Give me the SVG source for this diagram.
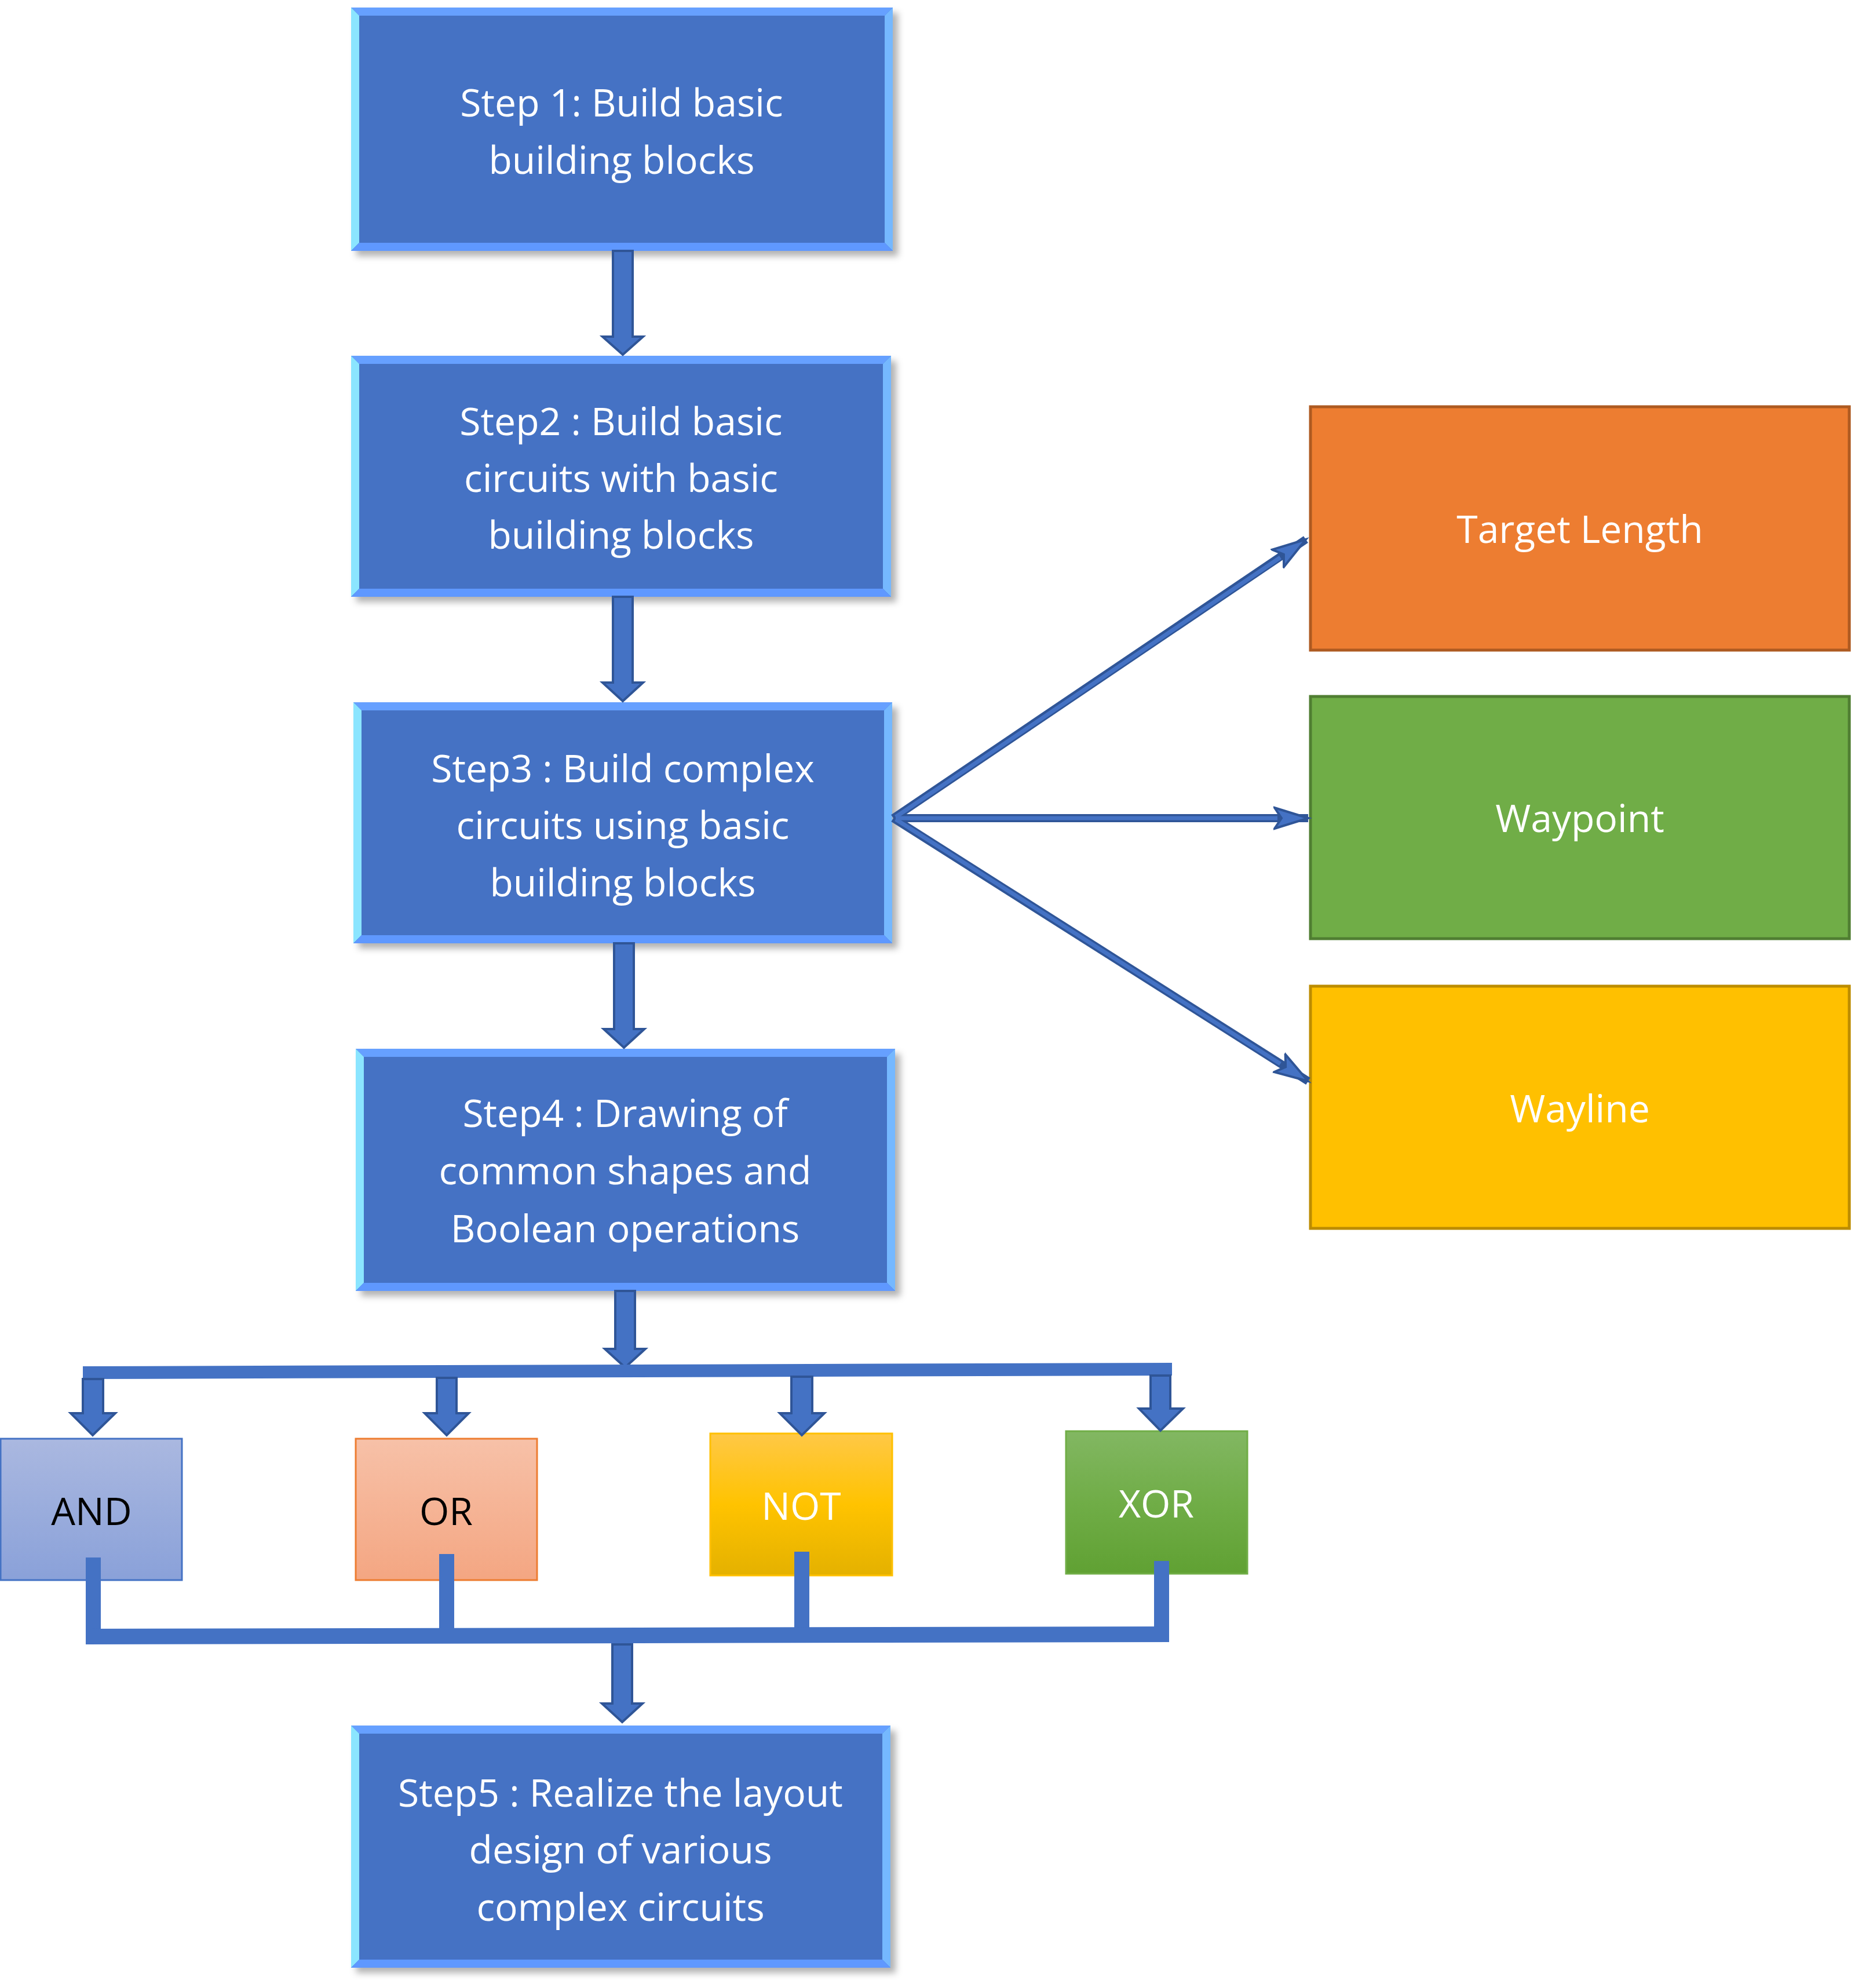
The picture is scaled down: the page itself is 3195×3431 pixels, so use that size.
<svg xmlns="http://www.w3.org/2000/svg" width="3195" height="3431" viewBox="0 0 3195 3431">
<defs>
<filter id="sh" x="-5%" y="-5%" width="115%" height="120%"><feDropShadow dx="9" dy="9" stdDeviation="6" flood-color="#000" flood-opacity="0.3"/></filter>
<linearGradient id="gAnd" x1="0" y1="0" x2="0" y2="1"><stop offset="0" stop-color="#AAB8E0"/><stop offset="1" stop-color="#8AA1D9"/></linearGradient>
<linearGradient id="gOr" x1="0" y1="0" x2="0" y2="1"><stop offset="0" stop-color="#F7C1A8"/><stop offset="1" stop-color="#F4A682"/></linearGradient>
<linearGradient id="gNot" x1="0" y1="0" x2="0" y2="1"><stop offset="0" stop-color="#FFC846"/><stop offset="0.5" stop-color="#FFC300"/><stop offset="1" stop-color="#E4B100"/></linearGradient>
<linearGradient id="gXor" x1="0" y1="0" x2="0" y2="1"><stop offset="0" stop-color="#82B762"/><stop offset="0.5" stop-color="#70AD47"/><stop offset="1" stop-color="#60A133"/></linearGradient>
<marker id="ah" markerUnits="userSpaceOnUse" markerWidth="70" markerHeight="44" refX="60" refY="22" orient="auto" viewBox="0 0 70 44">
<path d="M60,22 L2,4 L14,22 L2,40 Z" fill="#4472C4" stroke="#2F5597" stroke-width="4"/>
</marker>
<style>
.st{fill:#fff;font-family:"Open Sans","Liberation Sans",sans-serif;font-size:66px;text-anchor:middle}
.sm{font-family:"Open Sans","Liberation Sans",sans-serif;font-size:66px;text-anchor:middle}
.core{fill:#4472C4}
.bt{fill:#66A0FF}.bl{fill:#8BE5FF}.br{fill:#75B8FF}.bb{fill:#5F98FF}
.arw{fill:#4472C4;stroke:#2F5597;stroke-width:4;stroke-linejoin:miter}
.bar{fill:#4472C4}
.thin{stroke:#2F5597;stroke-width:14;fill:none}
.thinc{stroke:#4472C4;stroke-width:7;fill:none}
</style>
</defs>

<g id="step1" filter="url(#sh)">
<rect class="core" x="606" y="13" width="935" height="420"/>
<polygon class="bt" points="606,13 1541,13 1527,27 620,27"/>
<polygon class="bl" points="606,13 620,27 620,419 606,433"/>
<polygon class="br" points="1541,13 1541,433 1527,419 1527,27"/>
<polygon class="bb" points="606,433 620,419 1527,419 1541,433"/>
<text class="st" x="1073" y="201">Step 1: Build basic</text>
<text class="st" x="1073" y="300">building blocks</text>
</g>
<g id="step2" filter="url(#sh)">
<rect class="core" x="606" y="614" width="932" height="416"/>
<polygon class="bt" points="606,614 1538,614 1524,628 620,628"/>
<polygon class="bl" points="606,614 620,628 620,1016 606,1030"/>
<polygon class="br" points="1538,614 1538,1030 1524,1016 1524,628"/>
<polygon class="bb" points="606,1030 620,1016 1524,1016 1538,1030"/>
<text class="st" x="1072" y="751">Step2 : Build basic</text>
<text class="st" x="1072" y="849">circuits with basic</text>
<text class="st" x="1072" y="947">building blocks</text>
</g>
<g id="step3" filter="url(#sh)">
<rect class="core" x="610" y="1212" width="930" height="416"/>
<polygon class="bt" points="610,1212 1540,1212 1526,1226 624,1226"/>
<polygon class="bl" points="610,1212 624,1226 624,1614 610,1628"/>
<polygon class="br" points="1540,1212 1540,1628 1526,1614 1526,1226"/>
<polygon class="bb" points="610,1628 624,1614 1526,1614 1540,1628"/>
<text class="st" x="1075" y="1350">Step3 : Build complex</text>
<text class="st" x="1075" y="1448">circuits using basic</text>
<text class="st" x="1075" y="1547">building blocks</text>
</g>
<g id="step4" filter="url(#sh)">
<rect class="core" x="614" y="1810" width="931" height="418"/>
<polygon class="bt" points="614,1810 1545,1810 1531,1824 628,1824"/>
<polygon class="bl" points="614,1810 628,1824 628,2214 614,2228"/>
<polygon class="br" points="1545,1810 1545,2228 1531,2214 1531,1824"/>
<polygon class="bb" points="614,2228 628,2214 1531,2214 1545,2228"/>
<text class="st" x="1079" y="1945">Step4 : Drawing of</text>
<text class="st" x="1079" y="2044">common shapes and</text>
<text class="st" x="1079" y="2144">Boolean operations</text>
</g>
<g id="step5" filter="url(#sh)">
<rect class="core" x="606" y="2978" width="931" height="418"/>
<polygon class="bt" points="606,2978 1537,2978 1523,2992 620,2992"/>
<polygon class="bl" points="606,2978 620,2992 620,3382 606,3396"/>
<polygon class="br" points="1537,2978 1537,3396 1523,3382 1523,2992"/>
<polygon class="bb" points="606,3396 620,3382 1523,3382 1537,3396"/>
<text class="st" x="1071" y="3118">Step5 : Realize the layout</text>
<text class="st" x="1071" y="3216">design of various</text>
<text class="st" x="1071" y="3315">complex circuits</text>
</g>

<g id="target">
<rect x="2262" y="702" width="930" height="420" fill="#ED7D31" stroke="#AE5A21" stroke-width="5"/>
<text class="st" x="2727" y="937">Target Length</text>
</g>
<g id="waypoint">
<rect x="2262" y="1202" width="930" height="418" fill="#70AD47" stroke="#507E32" stroke-width="5"/>
<text class="st" x="2727" y="1436">Waypoint</text>
</g>
<g id="wayline">
<rect x="2262" y="1702" width="930" height="418" fill="#FFC000" stroke="#BC8C00" stroke-width="5"/>
<text class="st" x="2727" y="1937">Wayline</text>
</g>

<g id="and">
<rect x="1" y="2483" width="313" height="244" fill="url(#gAnd)" stroke="#4472C4" stroke-width="3"/>
<text class="sm" x="158" y="2632" fill="#000">AND</text>
</g>
<g id="or">
<rect x="614" y="2483" width="313" height="244" fill="url(#gOr)" stroke="#ED7D31" stroke-width="3"/>
<text class="sm" x="770" y="2632" fill="#000">OR</text>
</g>
<g id="not">
<rect x="1226" y="2474" width="314" height="245" fill="url(#gNot)" stroke="#FFC000" stroke-width="3"/>
<text class="sm" x="1383" y="2623" fill="#fff">NOT</text>
</g>
<g id="xor">
<rect x="1840" y="2470" width="313" height="246" fill="url(#gXor)" stroke="#70AD47" stroke-width="3"/>
<text class="sm" x="1996" y="2619" fill="#fff">XOR</text>
</g>

<g id="connectors">
<!-- vertical block arrows between steps -->
<path class="arw" d="M1058,433 H1092 V581 H1110 L1075,612 L1040,581 H1058 Z"/>
<path class="arw" d="M1058,1030 H1092 V1178 H1110 L1075,1210 L1040,1178 H1058 Z"/>
<path class="arw" d="M1060,1628 H1094 V1776 H1112 L1077,1808 L1042,1776 H1060 Z"/>
<path class="arw" d="M1062,2228 H1096 V2328 H1114 L1079,2360 L1044,2328 H1062 Z"/>
<path class="arw" d="M1057,2838 H1091 V2940 H1109 L1074,2972 L1039,2940 H1057 Z"/>
<!-- top distribution bar -->
<polygon class="bar" points="143,2358 2023,2352 2023,2374 143,2380"/>
<path class="arw" d="M143,2380 H178 V2439 H199 L160,2477 L122,2439 H143 Z"/>
<path class="arw" d="M754,2378 H788 V2439 H809 L771,2477 L733,2439 H754 Z"/>
<path class="arw" d="M1366,2376 H1402 V2439 H1423 L1384,2477 L1346,2439 H1366 Z"/>
<path class="arw" d="M1986,2374 H2020 V2431 H2042 L2003,2469 L1966,2431 H1986 Z"/>
<!-- bottom collector -->
<rect class="bar" x="148" y="2688" width="26" height="140"/>
<rect class="bar" x="758" y="2682" width="26" height="140"/>
<rect class="bar" x="1371" y="2678" width="26" height="140"/>
<rect class="bar" x="1992" y="2694" width="26" height="130"/>
<polygon class="bar" points="148,2811 2018,2807 2018,2834 148,2838"/>
<!-- thin arrows from step3 -->
<g marker-end="url(#ah)">
<line class="thin" x1="1542" y1="1412" x2="2254" y2="931"/>
<line class="thin" x1="1542" y1="1412" x2="2258" y2="1412"/>
<line class="thin" x1="1542" y1="1412" x2="2258" y2="1866"/>
</g>
<line class="thinc" x1="1546" y1="1410" x2="2210" y2="962"/>
<line class="thinc" x1="1546" y1="1412" x2="2205" y2="1412"/>
<line class="thinc" x1="1546" y1="1414" x2="2210" y2="1836"/>
</g>
</svg>
